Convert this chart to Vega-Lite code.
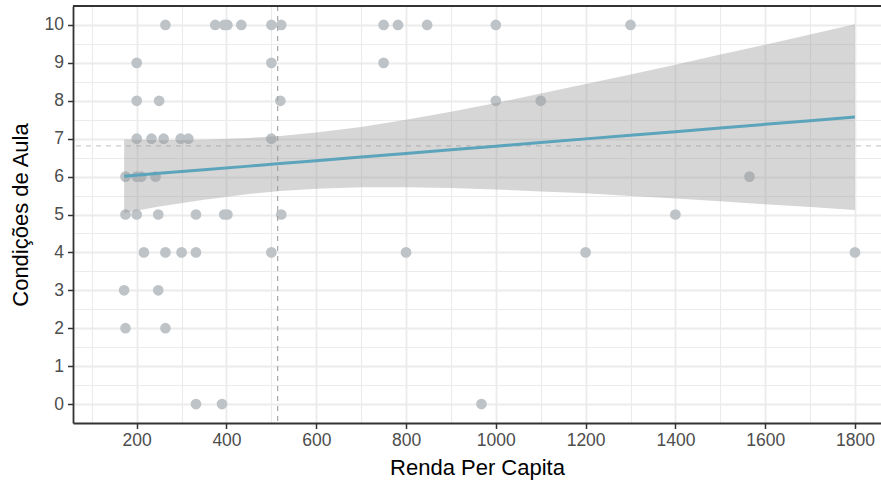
{
  "$schema": "https://vega.github.io/schema/vega-lite/v6.json",
  "width": 808,
  "height": 417,
  "autosize": {"type": "none"},
  "padding": {"left": 73, "top": 6, "right": 0, "bottom": 60},
  "background": "white",
  "config": {
    "view": {"stroke": null},
    "font": "Liberation Sans"
  },
  "datasets": {
    "pts": [
      {"renda": 264, "aula": 10}, {"renda": 375, "aula": 10}, {"renda": 395, "aula": 10}, {"renda": 402, "aula": 10},
      {"renda": 433, "aula": 10}, {"renda": 500, "aula": 10}, {"renda": 522, "aula": 10}, {"renda": 750, "aula": 10},
      {"renda": 782, "aula": 10}, {"renda": 847, "aula": 10}, {"renda": 1000, "aula": 10}, {"renda": 1300, "aula": 10},
      {"renda": 200, "aula": 9}, {"renda": 500, "aula": 9}, {"renda": 750, "aula": 9},
      {"renda": 200, "aula": 8}, {"renda": 250, "aula": 8}, {"renda": 520, "aula": 8}, {"renda": 1000, "aula": 8}, {"renda": 1100, "aula": 8},
      {"renda": 200, "aula": 7}, {"renda": 233, "aula": 7}, {"renda": 260, "aula": 7}, {"renda": 298, "aula": 7}, {"renda": 315, "aula": 7}, {"renda": 500, "aula": 7},
      {"renda": 175, "aula": 6}, {"renda": 200, "aula": 6}, {"renda": 210, "aula": 6}, {"renda": 242, "aula": 6}, {"renda": 1565, "aula": 6},
      {"renda": 175, "aula": 5}, {"renda": 200, "aula": 5}, {"renda": 248, "aula": 5}, {"renda": 332, "aula": 5}, {"renda": 395, "aula": 5},
      {"renda": 402, "aula": 5}, {"renda": 522, "aula": 5}, {"renda": 1400, "aula": 5},
      {"renda": 216, "aula": 4}, {"renda": 264, "aula": 4}, {"renda": 300, "aula": 4}, {"renda": 332, "aula": 4}, {"renda": 500, "aula": 4},
      {"renda": 800, "aula": 4}, {"renda": 1200, "aula": 4}, {"renda": 1800, "aula": 4},
      {"renda": 172, "aula": 3}, {"renda": 248, "aula": 3},
      {"renda": 175, "aula": 2}, {"renda": 264, "aula": 2},
      {"renda": 332, "aula": 0}, {"renda": 390, "aula": 0}, {"renda": 968, "aula": 0}
    ],
    "fit": [
      {"renda": 172, "fit": 6.01, "lo": 5.04, "hi": 6.98},
      {"renda": 250, "fit": 6.085, "lo": 5.21, "hi": 6.96},
      {"renda": 350, "fit": 6.181, "lo": 5.39, "hi": 6.97},
      {"renda": 450, "fit": 6.276, "lo": 5.54, "hi": 7.02},
      {"renda": 520, "fit": 6.343, "lo": 5.62, "hi": 7.07},
      {"renda": 600, "fit": 6.42, "lo": 5.68, "hi": 7.16},
      {"renda": 700, "fit": 6.515, "lo": 5.72, "hi": 7.31},
      {"renda": 800, "fit": 6.611, "lo": 5.72, "hi": 7.5},
      {"renda": 900, "fit": 6.707, "lo": 5.7, "hi": 7.71},
      {"renda": 1000, "fit": 6.803, "lo": 5.66, "hi": 7.94},
      {"renda": 1100, "fit": 6.899, "lo": 5.61, "hi": 8.19},
      {"renda": 1200, "fit": 6.995, "lo": 5.56, "hi": 8.44},
      {"renda": 1300, "fit": 7.09, "lo": 5.49, "hi": 8.69},
      {"renda": 1400, "fit": 7.186, "lo": 5.42, "hi": 8.95},
      {"renda": 1500, "fit": 7.282, "lo": 5.35, "hi": 9.22},
      {"renda": 1600, "fit": 7.378, "lo": 5.27, "hi": 9.48},
      {"renda": 1700, "fit": 7.474, "lo": 5.2, "hi": 9.75},
      {"renda": 1800, "fit": 7.57, "lo": 5.12, "hi": 10.02}
    ],
    "refs": [
      {"renda_ref": 514, "aula_ref": 6.81}
    ]
  },
  "encoding": {
    "x": {
      "type": "quantitative",
      "scale": {"domain": [58.1, 1858], "nice": false, "zero": false},
      "axis": {
        "title": "Renda Per Capita",
        "values": [100, 200, 300, 400, 500, 600, 700, 800, 900, 1000, 1100, 1200, 1300, 1400, 1500, 1600, 1700, 1800],
        "labelExpr": "datum.value % 200 === 0 ? format(datum.value, 'd') : ''",
        "labelOverlap": false,
        "labelFlush": false,
        "labelFont": "Liberation Sans",
        "labelFontSize": 17.5,
        "labelColor": "#4d4d4d",
        "labelPadding": 3,
        "tickSize": 5.5,
        "tickWidth": 1.5,
        "tickColor": "#333333",
        "tickOpacity": {"condition": {"test": "datum.value % 200 === 0", "value": 1}, "value": 0},
        "domainColor": "#333333",
        "domainWidth": 1.8,
        "grid": true,
        "gridColor": "#ebebeb",
        "gridWidth": {"condition": {"test": "datum.value % 200 === 0", "value": 1.8}, "value": 1.1},
        "titleFont": "Liberation Sans",
        "titleFontSize": 22,
        "titleFontWeight": "normal",
        "titleColor": "#000000",
        "titlePadding": 8
      }
    },
    "y": {
      "type": "quantitative",
      "scale": {"domain": [-0.5, 10.5], "nice": false, "zero": false},
      "axis": {
        "title": "Condições de Aula",
        "values": [0, 0.5, 1, 1.5, 2, 2.5, 3, 3.5, 4, 4.5, 5, 5.5, 6, 6.5, 7, 7.5, 8, 8.5, 9, 9.5, 10],
        "labelExpr": "datum.value % 1 === 0 ? format(datum.value, 'd') : ''",
        "labelOverlap": false,
        "labelFlush": false,
        "labelFont": "Liberation Sans",
        "labelFontSize": 17.5,
        "labelColor": "#4d4d4d",
        "labelPadding": 4,
        "tickSize": 5.5,
        "tickWidth": 1.5,
        "tickColor": "#333333",
        "tickOpacity": {"condition": {"test": "datum.value % 1 === 0", "value": 1}, "value": 0},
        "domainColor": "#333333",
        "domainWidth": 1.8,
        "grid": true,
        "gridColor": "#ebebeb",
        "gridWidth": {"condition": {"test": "datum.value % 1 === 0", "value": 1.8}, "value": 1.1},
        "titleFont": "Liberation Sans",
        "titleFontSize": 22,
        "titleFontWeight": "normal",
        "titleColor": "#000000",
        "titlePadding": 12
      }
    }
  },
  "layer": [
    {
      "data": {"name": "pts"},
      "mark": {"type": "circle", "size": 115, "color": "#bdc3c7", "opacity": 1},
      "encoding": {
        "x": {"field": "renda", "type": "quantitative"},
        "y": {"field": "aula", "type": "quantitative"}
      }
    },
    {
      "data": {"name": "refs"},
      "mark": {"type": "rule", "color": "#a6a6a6", "strokeWidth": 1.2, "strokeDash": [5, 5]},
      "encoding": {
        "x": {"field": "renda_ref", "type": "quantitative"}
      }
    },
    {
      "data": {"name": "refs"},
      "mark": {"type": "rule", "color": "#cccccc", "strokeWidth": 1.2, "strokeDash": [5, 5]},
      "encoding": {
        "y": {"field": "aula_ref", "type": "quantitative"}
      }
    },
    {
      "data": {"name": "fit"},
      "mark": {"type": "area", "color": "#999999", "opacity": 0.4, "interpolate": "linear"},
      "encoding": {
        "x": {"field": "renda", "type": "quantitative"},
        "y": {"field": "lo", "type": "quantitative"},
        "y2": {"field": "hi"}
      }
    },
    {
      "data": {"name": "fit"},
      "mark": {"type": "line", "color": "#5ba4bb", "strokeWidth": 3},
      "encoding": {
        "x": {"field": "renda", "type": "quantitative"},
        "y": {"field": "fit", "type": "quantitative"}
      }
    },
    {
      "data": {"name": "refs"},
      "mark": {"type": "rule", "color": "#333333", "strokeWidth": 1.8},
      "encoding": {
        "y": {"datum": 10.5}
      }
    }
  ]
}
